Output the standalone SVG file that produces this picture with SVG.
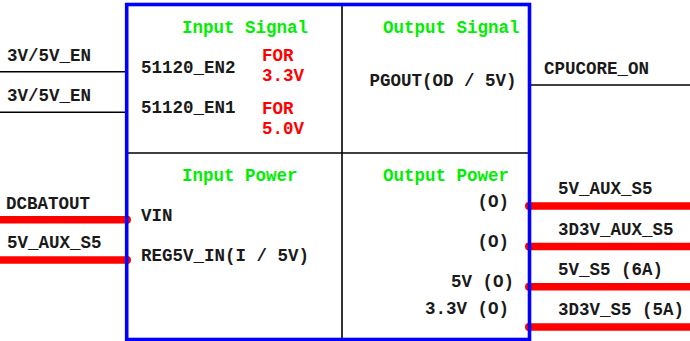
<svg xmlns="http://www.w3.org/2000/svg" width="690" height="341" viewBox="0 0 690 341">
<style>
  text { font-family: "Liberation Mono", "Courier New", monospace; font-weight: bold; font-size: 17.5px; fill: #1a1a1a; }
  .g { fill: #00ee00; }
  .r { fill: #ff0000; }
  .e { text-anchor: end; }
  .sig { stroke: #000; stroke-width: 1.4; fill: none; }
  .pwr { stroke: #ff0000; stroke-width: 7.5; fill: none; }
  .dot { fill: #ff0000; }
  .div { stroke: #000; stroke-width: 1.6; fill: none; }
</style>
<rect width="690" height="341" fill="#ffffff"/>
<g id="connectors">
  <line class="sig" x1="0" y1="71.7" x2="127" y2="71.7"/>
  <line class="sig" x1="0" y1="112.3" x2="127" y2="112.3"/>
  <line class="sig" x1="531" y1="85" x2="690" y2="85"/>
  <line class="pwr" x1="0" y1="219.7" x2="127" y2="219.7"/>
  <circle class="dot" cx="127" cy="219.7" r="4"/>
  <line class="pwr" x1="0" y1="260" x2="127" y2="260"/>
  <circle class="dot" cx="127" cy="260" r="4"/>
  <line class="pwr" x1="529" y1="206" x2="690" y2="206"/>
  <circle class="dot" cx="529" cy="206" r="4"/>
  <line class="pwr" x1="529" y1="246.5" x2="690" y2="246.5"/>
  <circle class="dot" cx="529" cy="246.5" r="4"/>
  <line class="pwr" x1="529" y1="286.7" x2="690" y2="286.7"/>
  <circle class="dot" cx="529" cy="286.7" r="4"/>
  <line class="pwr" x1="529" y1="327" x2="690" y2="327"/>
  <circle class="dot" cx="529" cy="327" r="4"/>
</g>
<g id="chip">
  <line class="div" x1="342" y1="5" x2="342" y2="338"/>
  <line class="div" x1="127" y1="153" x2="529" y2="153"/>
  <rect x="126.7" y="4.5" width="402.8" height="335" fill="none" stroke="#0000ff" stroke-width="3.6"/>
</g>
<g id="input-signal">
  <text class="g" x="182" y="33">Input Signal</text>
  <text x="141" y="73">51120_EN2</text>
  <text x="141" y="113">51120_EN1</text>
  <text class="r" x="262" y="61">FOR</text>
  <text class="r" x="262" y="81">3.3V</text>
  <text class="r" x="262" y="114">FOR</text>
  <text class="r" x="262" y="134">5.0V</text>
</g>
<g id="output-signal">
  <text class="g" x="383" y="33">Output Signal</text>
  <text x="369.5" y="86">PGOUT(OD / 5V)</text>
</g>
<g id="input-power">
  <text class="g" x="182" y="181">Input Power</text>
  <text x="141" y="221">VIN</text>
  <text x="141" y="261">REG5V_IN(I / 5V)</text>
</g>
<g id="output-power">
  <text class="g" x="383" y="181">Output Power</text>
  <text class="e" x="509" y="207">(O)</text>
  <text class="e" x="509" y="247">(O)</text>
  <text class="e" x="514" y="287">5V (O)</text>
  <text class="e" x="509" y="314">3.3V (O)</text>
</g>
<g id="left-labels">
  <text x="7" y="61">3V/5V_EN</text>
  <text x="7" y="101">3V/5V_EN</text>
  <text x="6" y="209">DCBATOUT</text>
  <text x="7" y="248">5V_AUX_S5</text>
</g>
<g id="right-labels">
  <text x="544" y="74">CPUCORE_ON</text>
  <text x="558" y="194">5V_AUX_S5</text>
  <text x="558" y="235">3D3V_AUX_S5</text>
  <text x="558" y="275">5V_S5 (6A)</text>
  <text x="558" y="315">3D3V_S5 (5A)</text>
</g>
</svg>
